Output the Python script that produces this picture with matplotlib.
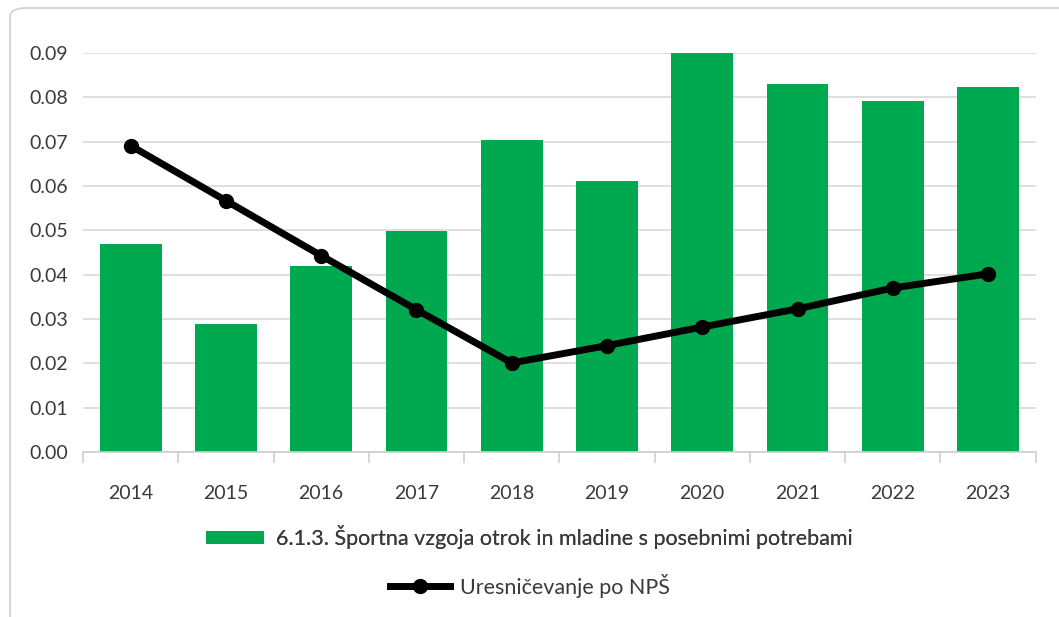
import matplotlib.pyplot as plt
from matplotlib.patches import FancyBboxPatch

years = ["2014", "2015", "2016", "2017", "2018", "2019", "2020", "2021", "2022", "2023"]
bar_values = [0.0470, 0.0288, 0.0420, 0.0499, 0.0704, 0.0612, 0.0900, 0.0831, 0.0792, 0.0824]
line_values = [0.0691, 0.0567, 0.0443, 0.0321, 0.0201, 0.0240, 0.0282, 0.0323, 0.0370, 0.0402]

bar_label = "6.1.3. Športna vzgoja otrok in mladine s posebnimi potrebami"
line_label = "Uresničevanje po NPŠ"

plt.rcParams['font.family'] = ['Lato', 'DejaVu Sans']

fig = plt.figure(figsize=(10.59, 6.17), dpi=100)
ax = fig.add_axes([0.0784, 0.2674, 0.8996, 0.6466])

# rounded frame around the chart
frame = FancyBboxPatch((10/1059, -0.05), 1.1, 1 - 8/617 + 0.05,
                       boxstyle="round,pad=0,rounding_size=0.015",
                       transform=fig.transFigure, fill=False,
                       edgecolor="#d0d0d0", linewidth=1.2)
fig.patches.append(frame)

x = range(len(years))
bars = ax.bar(x, bar_values, width=0.65, color="#00a94f", zorder=2, label=bar_label)
line, = ax.plot(x, line_values, color="black", linewidth=5, marker="o",
                markersize=10, zorder=3, label=line_label)

ax.set_xlim(-0.5, len(years) - 0.5)
ax.set_ylim(0, 0.09)
ax.set_yticks([i / 100 for i in range(10)])
ax.set_yticklabels([f"{i / 100:.2f}" for i in range(10)])
ax.set_xticks(list(x))
ax.set_xticklabels(years)
ax.set_xticks([i - 0.5 for i in range(len(years) + 1)], minor=True)

ax.grid(axis="y", color="#d9d9d9", linewidth=1.2, zorder=0)
for s in ["top", "right", "left"]:
    ax.spines[s].set_visible(False)
ax.spines["bottom"].set_color("#d0d0d0")
ax.spines["bottom"].set_linewidth(1.2)

ax.tick_params(axis="y", length=0, pad=11, labelsize=14, colors="#3a3a3a")
ax.tick_params(axis="x", which="major", length=0, pad=24, labelsize=14, colors="#3a3a3a")
ax.tick_params(axis="x", which="minor", length=8, color="#d0d0d0", width=1.2)

leg1 = fig.legend(handles=[bars], labels=[bar_label], loc="center",
                  bbox_to_anchor=(0.5, 1 - 537/617), frameon=False,
                  fontsize=15.5, handlelength=2.7, handleheight=0.6,
                  handletextpad=0.55, labelcolor="#3a3a3a")
leg2 = fig.legend(handles=[line], labels=[line_label], loc="center",
                  bbox_to_anchor=(0.5, 1 - 586/617), frameon=False,
                  fontsize=15.5, handlelength=2.8, handletextpad=0.45,
                  labelcolor="#3a3a3a")
fig.add_artist(leg1)

fig.savefig("out.png", dpi=100)
